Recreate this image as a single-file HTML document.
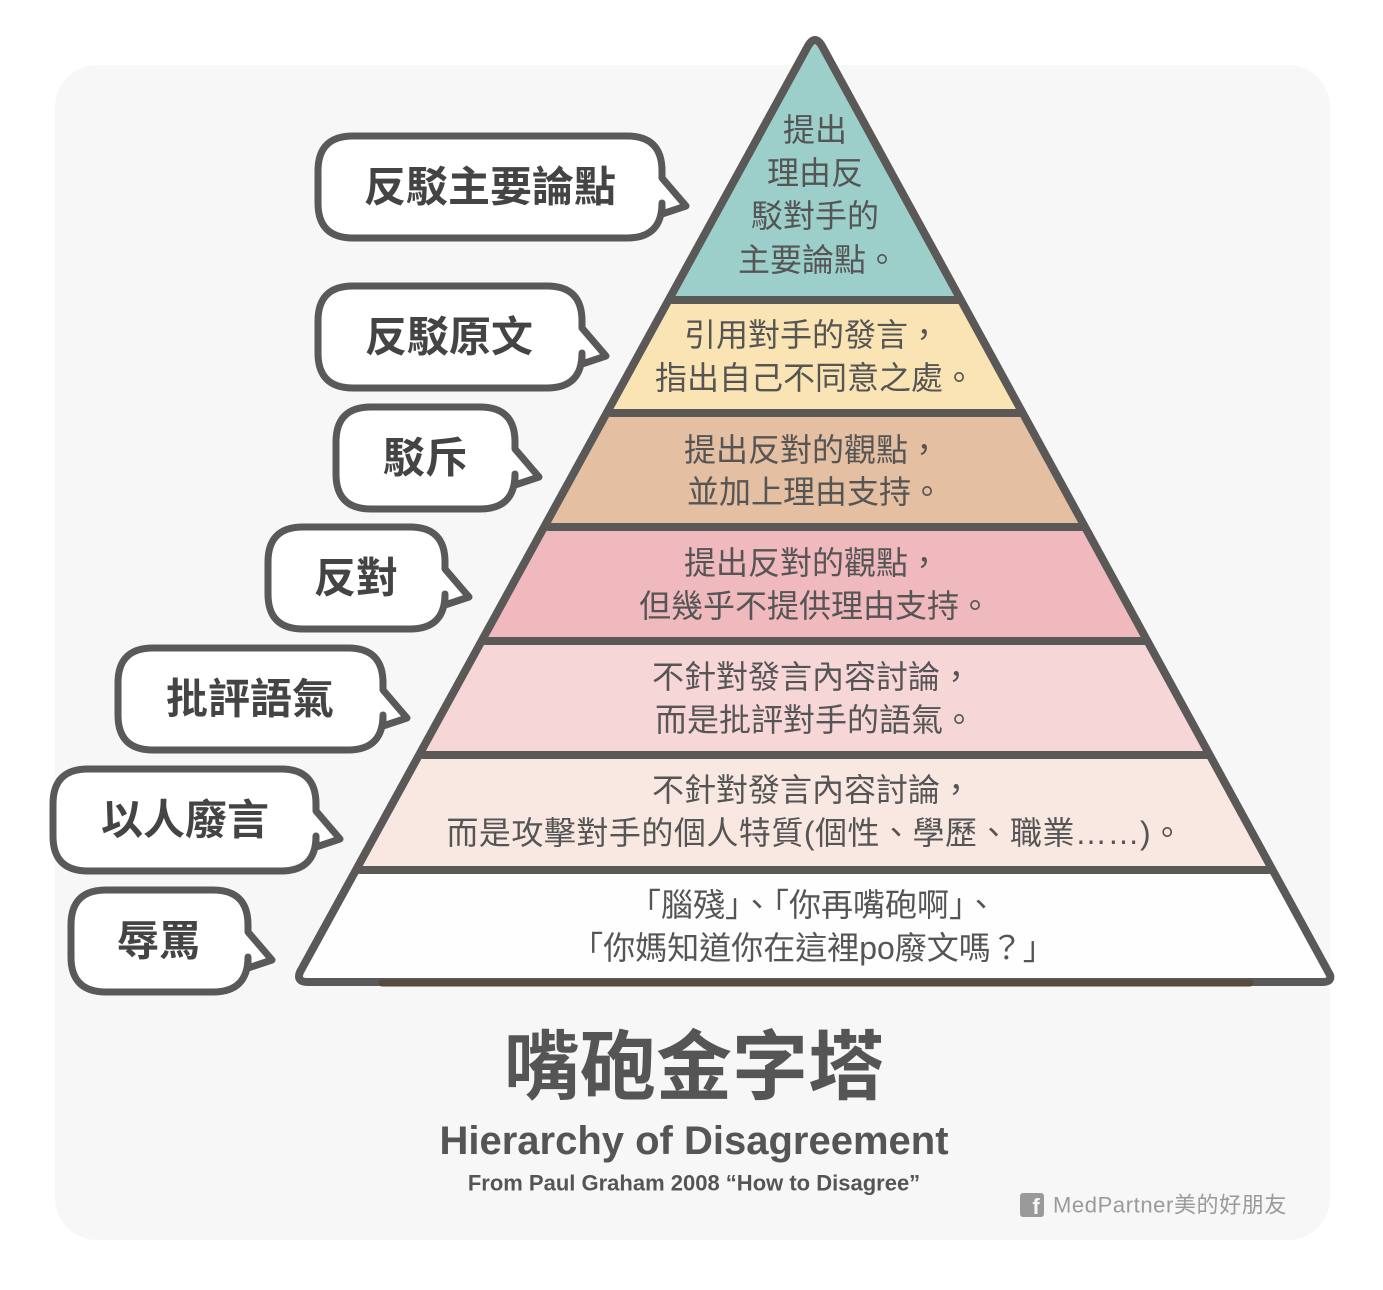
<!DOCTYPE html>
<html><head><meta charset="utf-8"><style>
html,body{margin:0;padding:0;background:#fff;}
svg{display:block;}
text{font-family:"Liberation Sans","Noto Sans CJK TC",sans-serif;}
</style></head><body>
<svg width="1383" height="1290" viewBox="0 0 1383 1290" xmlns="http://www.w3.org/2000/svg">
<rect x="55" y="65" width="1275" height="1175" rx="42" fill="#f7f7f7"/>
<g stroke="none">
<polygon points="815,40 957.5,300 672.5,300" fill="#9ccfca"/>
<polygon points="672.5,300 957.5,300 1019.4,413 610.6,413" fill="#fbe4b4"/>
<polygon points="610.6,413 1019.4,413 1082,527 548,527" fill="#e4bfa1"/>
<polygon points="548,527 1082,527 1144.3,641 485.7,641" fill="#efb9bd"/>
<polygon points="485.7,641 1144.3,641 1206.8,755 423.2,755" fill="#f7d6d7"/>
<polygon points="423.2,755 1206.8,755 1270,870 360,870" fill="#f9e8e2"/>
<polygon points="360,870 1270,870 1330,980 300,980" fill="#fefefe"/>
</g>
<g stroke="#5b5858" stroke-width="8" stroke-linecap="round">
<line x1="672.5" y1="300" x2="957.5" y2="300"/>
<line x1="610.6" y1="413" x2="1019.4" y2="413"/>
<line x1="548" y1="527" x2="1082" y2="527"/>
<line x1="485.7" y1="641" x2="1144.3" y2="641"/>
<line x1="423.2" y1="755" x2="1206.8" y2="755"/>
<line x1="360" y1="870" x2="1270" y2="870"/>
</g>
<path d="M808,46 Q815,34 822,46 L1330,975 Q1332,982 1322,982 L308,982 Q296,982 300,972 Z" fill="none" stroke="#5b5858" stroke-width="8" stroke-linejoin="round"/>
<line x1="382" y1="983" x2="1250" y2="983" stroke="#574a3e" stroke-width="7" stroke-linecap="round"/>

<g fill="#fff" stroke="#5b5858" stroke-width="7" stroke-linejoin="round">
<path d="M353,136 H627 Q662,136 662,171 V178 L686,206 L662,214 V203 Q662,238 627,238 H353 Q318,238 318,203 V171 Q318,136 353,136 Z"/>
<path d="M353,286 H547 Q582,286 582,321 V328 L606,356 L582,364 V353 Q582,388 547,388 H353 Q318,388 318,353 V321 Q318,286 353,286 Z"/>
<path d="M371,407 H480 Q515,407 515,442 V449 L539,477 L515,485 V474 Q515,509 480,509 H371 Q336,509 336,474 V442 Q336,407 371,407 Z"/>
<path d="M303,527 H410 Q445,527 445,562 V569 L469,597 L445,605 V594 Q445,629 410,629 H303 Q268,629 268,594 V562 Q268,527 303,527 Z"/>
<path d="M153,648 H348 Q383,648 383,683 V690 L407,718 L383,726 V715 Q383,750 348,750 H153 Q118,750 118,715 V683 Q118,648 153,648 Z"/>
<path d="M88,769 H281 Q316,769 316,804 V811 L340,839 L316,847 V836 Q316,871 281,871 H88 Q53,871 53,836 V804 Q53,769 88,769 Z"/>
<path d="M106,890 H213 Q248,890 248,925 V932 L272,960 L248,968 V957 Q248,992 213,992 H106 Q71,992 71,957 V925 Q71,890 106,890 Z"/>
</g>
<g fill="#444" font-size="42" font-weight="bold" text-anchor="middle" dominant-baseline="central">
<text x="490" y="187">反駁主要論點</text>
<text x="449" y="337">反駁原文</text>
<text x="425" y="458">駁斥</text>
<text x="356" y="578">反對</text>
<text x="250" y="699">批評語氣</text>
<text x="185" y="820">以人廢言</text>
<text x="159" y="941">辱罵</text>
</g>
<g fill="#555" font-size="32" text-anchor="middle" dominant-baseline="central">
<text x="815" y="130">提出</text>
<text x="815" y="173">理由反</text>
<text x="815" y="216">駁對手的</text>
<text x="818" y="260">主要論點。</text>
<text x="812" y="335">引用對手的發言，</text>
<text x="815" y="378">指出自己不同意之處。</text>
<text x="812" y="450">提出反對的觀點，</text>
<text x="815" y="492">並加上理由支持。</text>
<text x="812" y="563">提出反對的觀點，</text>
<text x="815" y="606">但幾乎不提供理由支持。</text>
<text x="812" y="677">不針對發言內容討論，</text>
<text x="815" y="720">而是批評對手的語氣。</text>
<text x="812" y="790">不針對發言內容討論，</text>
<text x="815" y="833" letter-spacing="0.5">而是攻擊對手的個人特質(個性、學歷、職業……)。</text>
<text x="813" y="905">「腦殘」、「你再嘴砲啊」、</text>
<text x="813" y="948">「你媽知道你在這裡po廢文嗎？」</text>
</g>
<text x="694" y="1068" fill="#555" font-size="76" font-weight="bold" text-anchor="middle" dominant-baseline="central">嘴砲金字塔</text>
<text x="694" y="1141" fill="#555" font-size="40" font-weight="bold" text-anchor="middle" dominant-baseline="central">Hierarchy of Disagreement</text>
<text x="694" y="1183" fill="#555" font-size="22" font-weight="bold" text-anchor="middle" dominant-baseline="central">From Paul Graham 2008 “How to Disagree”</text>
<rect x="1020" y="1193" width="24" height="24" rx="3" fill="#9a9a9a"/>
<text x="1036" y="1214" fill="#f7f7f7" font-size="22" font-weight="bold" text-anchor="middle">f</text>
<text x="1053" y="1205" fill="#9a9a9a" font-size="22" letter-spacing="0.6" dominant-baseline="central">MedPartner美的好朋友</text>
</svg>
</body></html>
